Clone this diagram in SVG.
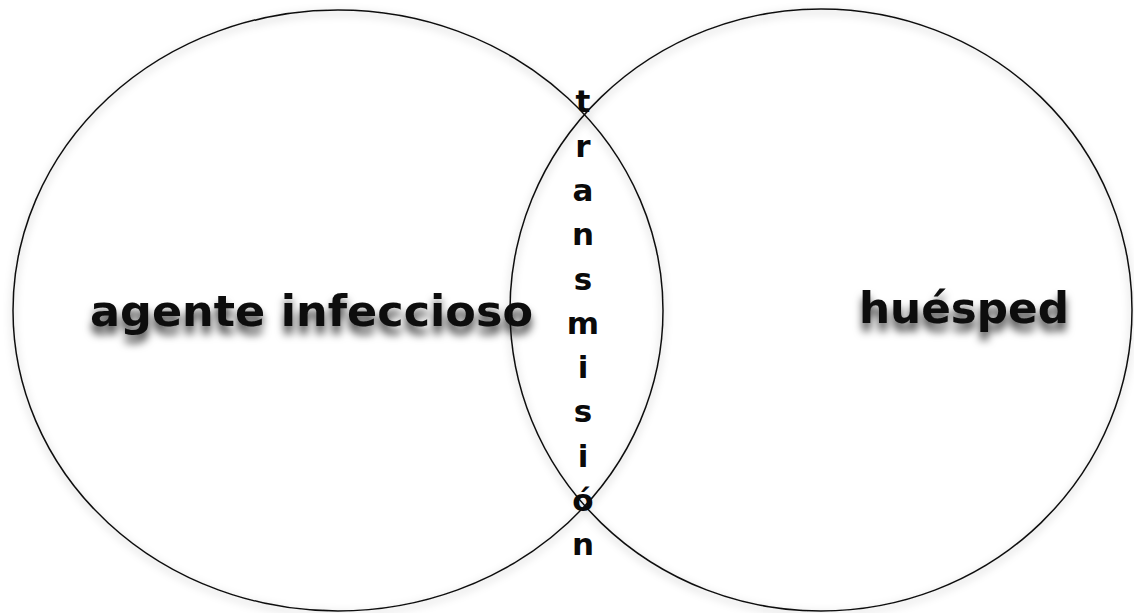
<svg xmlns="http://www.w3.org/2000/svg" width="1134" height="613" viewBox="0 0 1134 613">
  <defs>
    <filter id="cshadow" x="-10%" y="-10%" width="120%" height="120%">
      <feDropShadow dx="0" dy="3" stdDeviation="4" flood-color="#000" flood-opacity="0.35"/>
    </filter>
    <filter id="tshadow" x="-10%" y="-40%" width="120%" height="180%">
      <feDropShadow dx="0" dy="8" stdDeviation="4" flood-color="#000" flood-opacity="0.75"/>
    </filter>
  </defs>
  <style>
    .circle { fill: none; stroke: #111; stroke-width: 1.5; }
    .label { font-family: "DejaVu Sans", "Open Sans", sans-serif; font-weight: bold; font-size: 42px; fill: #0a0a0a; }
    .vert { font-family: "DejaVu Sans", "Open Sans", sans-serif; font-weight: bold; font-size: 31px; fill: #0a0a0a; text-anchor: middle; }
  </style>
  <rect width="1134" height="613" fill="#ffffff"/>
  <g id="agente">
    <ellipse class="circle" cx="338" cy="310.5" rx="325" ry="300.5" filter="url(#cshadow)"/>
    <text class="label" x="90" y="326" textLength="443" lengthAdjust="spacingAndGlyphs" filter="url(#tshadow)">agente infeccioso</text>
  </g>
  <g id="huesped">
    <ellipse class="circle" cx="821" cy="310" rx="311" ry="301" filter="url(#cshadow)"/>
    <text class="label" x="859" y="323" textLength="210" lengthAdjust="spacingAndGlyphs" filter="url(#tshadow)">huésped</text>
  </g>
  <g id="transmision">
    <text class="vert" x="583" y="112">t</text>
    <text class="vert" x="583" y="157">r</text>
    <text class="vert" x="583" y="201">a</text>
    <text class="vert" x="583" y="245">n</text>
    <text class="vert" x="583" y="290">s</text>
    <text class="vert" x="583" y="334">m</text>
    <text class="vert" x="583" y="378">i</text>
    <text class="vert" x="583" y="422">s</text>
    <text class="vert" x="583" y="467">i</text>
    <text class="vert" x="583" y="511">ó</text>
    <text class="vert" x="583" y="555">n</text>
  </g>
  <g id="connectors"></g>
</svg>
